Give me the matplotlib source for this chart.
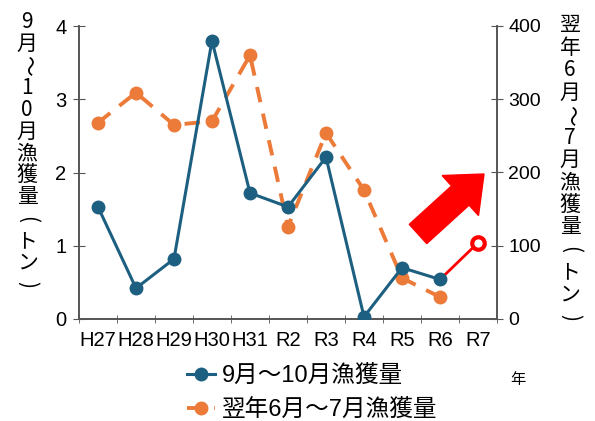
import numpy as np
import matplotlib.pyplot as plt
from matplotlib.lines import Line2D
from matplotlib.patches import FancyArrow
from matplotlib.transforms import IdentityTransform

plt.rcParams['font.family'] = ['Liberation Sans', 'Noto Sans CJK JP', 'DejaVu Sans']

years = ["H27", "H28", "H29", "H30", "H31", "R2", "R3", "R4", "R5", "R6", "R7"]
# 9-10月漁獲量 (トン), left axis; R7 is the latest value drawn in red
autumn_catch = [1.53, 0.42, 0.82, 3.80, 1.72, 1.53, 2.21, 0.03, 0.70, 0.54]
autumn_latest = 1.04
# 翌年6-7月漁獲量 (トン), right axis
summer_catch = [268, 309, 265, 270, 360, 126, 254, 176, 56, 30]

blue = "#1d5f80"
orange = "#ec7a38"
red = "#ff0000"
W, H = 595, 421

fig = plt.figure(figsize=(5.95, 4.21), dpi=100)
ax = fig.add_axes([79 / W, 1 - 319 / H, 418 / W, 293 / H])
ax2 = ax.twinx()

x = np.arange(len(years))
n = len(autumn_catch)

ax2.plot(x[:len(summer_catch)], summer_catch, color=orange, lw=2.8, ls=(0, (4, 3)),
         marker="o", ms=9, mfc=orange, mec=orange)
ax.plot([x[n - 1], x[n]], [autumn_catch[-1], autumn_latest], color=red, lw=2, zorder=3)
ax.plot(x[:n], autumn_catch, color=blue, lw=2.2, marker="o", ms=9,
        mfc=blue, mec=blue, zorder=4)
ax.plot([x[n]], [autumn_latest], marker="o", ms=9, mfc="white", mec=red, mew=3,
        ls="none", zorder=5)
ax.set_zorder(ax2.get_zorder() + 1)
ax.patch.set_visible(False)

ax.set_xlim(-0.5, len(years) - 0.5)
ax.set_ylim(0, 4)
ax2.set_ylim(0, 400)
ax.set_xticks(x)
ax.set_xticklabels(years, fontsize=14.5)
ax.set_xticks(np.arange(-0.5, len(years)), minor=True)
ax.tick_params(axis="x", which="major", length=0, pad=9)
ax.tick_params(axis="x", which="minor", length=6, direction="inout", color="#555555")
ax.set_yticks([0, 1, 2, 3, 4])
ax.tick_params(axis="y", labelsize=14.5, direction="inout", length=8, color="#555555", pad=5)
ax2.set_yticks([0, 100, 200, 300, 400])
ax2.tick_params(axis="y", labelsize=14, direction="inout", length=8, color="#555555", pad=4)

for a in (ax, ax2):
    a.spines["top"].set_visible(False)
    for s in ("left", "right", "bottom"):
        a.spines[s].set_color("#555555")
        a.spines[s].set_linewidth(1.2)


def vertical_label(chars, xc, y_top, step):
    # stack characters top to bottom; wave dash and brackets turned for vertical writing
    for i, ch in enumerate(chars):
        rot = -90 if ch in "～()" else 0
        fig.text(xc / W, 1 - (y_top + i * step) / H, ch, ha="center", va="center",
                 fontsize=15, rotation=rot, rotation_mode="default",
                 family=["Noto Sans CJK JP", "DejaVu Sans"])


vertical_label("9月～10月漁獲量(トン)", 27, 22, 21.9)
vertical_label("翌年6月～7月漁獲量(トン)", 570, 25, 22.5)

arrow = FancyArrow(418, H - 234, 66, 60, width=26, head_width=54, head_length=32,
                   length_includes_head=True, color=red, transform=IdentityTransform())
fig.patches.append(arrow)

handles = [
    Line2D([], [], color=blue, lw=2.2, marker="o", ms=9, mfc=blue, mec=blue),
    Line2D([], [], color=orange, lw=2.8, ls=(0, (4, 3)), marker="o", ms=9,
           mfc=orange, mec=orange),
]
labels = ["9月～10月漁獲量", "翌年6月～7月漁獲量"]
fig.legend(handles, labels, loc="center", bbox_to_anchor=(312 / W, 1 - 393 / H),
           ncol=1, frameon=False, handlelength=1.2, handletextpad=0.3,
           labelspacing=0.5, prop={"family": ["Liberation Sans", "Noto Sans CJK JP"],
                                   "size": 17})
fig.text(518 / W, 1 - 380 / H, "年", fontsize=11, ha="center", va="center")

fig.savefig("out.png", dpi=100)
